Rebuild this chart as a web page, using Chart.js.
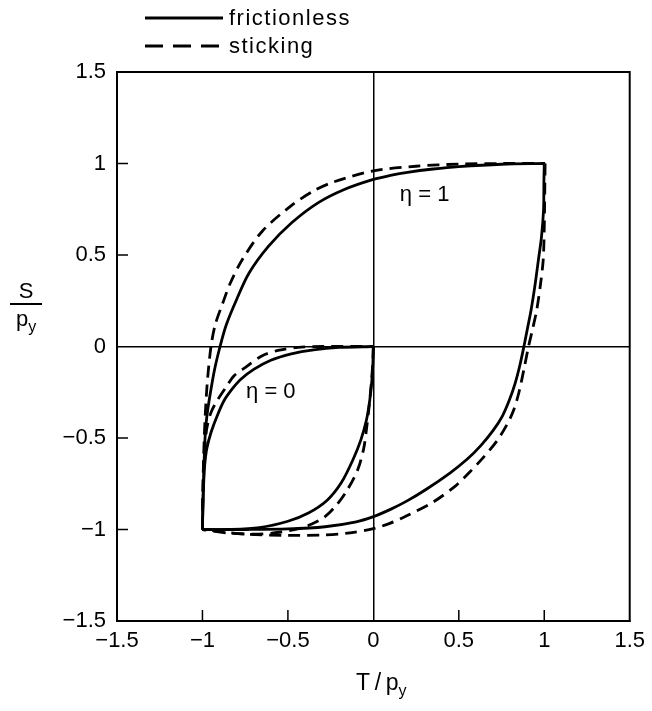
<!DOCTYPE html>
<html>
<head>
<meta charset="utf-8">
<script src="https://cdn.jsdelivr.net/npm/chart.js@4"></script>
<style>
  body { margin: 0; background: #fff; }
  #wrap { position: relative; width: 652px; height: 711px; font-family: "Liberation Sans", Arial, sans-serif; color: #000; }
  canvas { position: absolute; left: 0; top: 0; }
  .legend { position: absolute; left: 145px; font-size: 22px; letter-spacing: 1.5px; display: flex; align-items: center; }
  .legend svg { margin-right: 6px; }
  .ytitle { position: absolute; left: 10px; top: 279px; width: 32px; text-align: center; font-size: 22px; line-height: 23px; }
  .ytitle .bar { height: 2px; background: #000; margin: 1px 0 2px 0; }
  .xtitle { position: absolute; left: 356px; top: 669px; font-size: 23px; }
  sub { font-size: 16px; vertical-align: -6px; }
</style>
</head>
<body>
<div id="wrap">
  <canvas id="chart" width="652" height="711"></canvas>
  <div class="legend" style="top:5px">
    <svg width="78" height="6"><line x1="0" y1="3" x2="78" y2="3" stroke="#000" stroke-width="3"/></svg>frictionless
  </div>
  <div class="legend" style="top:33px">
    <svg width="78" height="6"><line x1="0" y1="3" x2="78" y2="3" stroke="#000" stroke-width="3" stroke-dasharray="18 10"/></svg>sticking
  </div>
  <div class="ytitle"><div>S</div><div class="bar"></div><div>p<sub>y</sub></div></div>
  <div class="xtitle">T&thinsp;/&thinsp;p<sub>y</sub></div>
</div>
<script>
// eta = 1, frictionless: rising branch (-1,-1) -> (1,1), falling branch (1,1) -> (-1,-1)
const fric1UpT = [-1.0, -0.998, -0.994, -0.99, -0.983, -0.974, -0.96, -0.93, -0.897, -0.86, -0.80, -0.728, -0.613, -0.478, -0.324, -0.17, 0, 0.1, 0.2, 0.35, 0.5, 0.75, 1.0];
const fric1UpS = [-1.0, -0.9, -0.75, -0.62, -0.47, -0.38, -0.29, -0.13, 0, 0.12, 0.257, 0.40, 0.548, 0.676, 0.785, 0.858, 0.913, 0.935, 0.952, 0.97, 0.983, 0.996, 1.0];
const fric1DownT = [1.0, 0.998, 0.996, 0.984, 0.966, 0.945, 0.923, 0.902, 0.881, 0.858, 0.83, 0.797, 0.755, 0.70, 0.63, 0.55, 0.45, 0.31, 0.195, 0.1, 0, -0.1, -0.283, -0.5, -0.75, -1.0];
const fric1DownS = [1.0, 0.9, 0.75, 0.6, 0.475, 0.33, 0.2, 0.1, 0, -0.1, -0.2, -0.29, -0.38, -0.46, -0.54, -0.615, -0.69, -0.78, -0.845, -0.89, -0.93, -0.958, -0.985, -0.997, -1.0, -1.0];

// eta = 1, sticking
const stick1UpT = [-1.0, -0.998, -0.993, -0.985, -0.972, -0.95, -0.925, -0.88, -0.84, -0.77, -0.65, -0.48, -0.35, -0.23, 0, 0.25, 0.5, 0.75, 1.005];
const stick1UpS = [-1.0, -0.8, -0.6, -0.4, -0.2, 0, 0.12, 0.24, 0.34, 0.47, 0.63, 0.77, 0.85, 0.90, 0.96, 0.985, 0.997, 1.0, 1.0];
const stick1DownT = [1.005, 1.003, 1.0, 0.994, 0.978, 0.956, 0.933, 0.908, 0.882, 0.852, 0.82, 0.78, 0.72, 0.64, 0.56, 0.483, 0.35, 0.195, 0.1, 0, -0.15, -0.283, -0.5, -0.75, -1.0];
const stick1DownS = [1.0, 0.85, 0.65, 0.475, 0.34, 0.2, 0.1, 0, -0.12, -0.25, -0.35, -0.43, -0.52, -0.61, -0.69, -0.76, -0.85, -0.925, -0.965, -0.995, -1.02, -1.03, -1.032, -1.025, -1.0];

// eta = 0, frictionless
const fric0UpT = [-1.0, -0.997, -0.993, -0.987, -0.975, -0.95, -0.91, -0.87, -0.82, -0.777, -0.7, -0.6, -0.48, -0.35, -0.2, 0];
const fric0UpS = [-1.0, -0.85, -0.75, -0.65, -0.56, -0.47, -0.37, -0.29, -0.225, -0.18, -0.125, -0.075, -0.04, -0.018, -0.005, 0];
const fric0DownT = [0, -0.003, -0.01, -0.022, -0.04, -0.073, -0.12, -0.188, -0.27, -0.38, -0.5, -0.667, -0.85, -1.0];
const fric0DownS = [0, -0.1, -0.2, -0.3, -0.4, -0.51, -0.62, -0.745, -0.84, -0.91, -0.955, -0.99, -1.0, -1.0];

// eta = 0, sticking
const stick0UpT = [-1.0, -0.997, -0.99, -0.975, -0.95, -0.91, -0.86, -0.815, -0.75, -0.65, -0.55, -0.44, -0.3, 0];
const stick0UpS = [-1.0, -0.8, -0.6, -0.45, -0.36, -0.29, -0.22, -0.16, -0.115, -0.05, -0.02, -0.005, 0, 0];
const stick0DownT = [0, -0.004, -0.012, -0.025, -0.04, -0.057, -0.09, -0.15, -0.21, -0.283, -0.36, -0.437, -0.55, -0.667, -0.85, -1.0];
const stick0DownS = [0, -0.1, -0.2, -0.33, -0.45, -0.56, -0.67, -0.78, -0.86, -0.93, -0.97, -0.995, -1.015, -1.025, -1.02, -1.0];

const etaLabels = ["η = 1", "η = 0"];
const etaLabelT = [0.3, -0.6];
const etaLabelS = [0.83, -0.25];

const innerTicks = [-1, -0.5, 0.5, 1];

function pts(ts, ss) {
  return ts.map((t, i) => ({ x: t, y: ss[i] }));
}

function curve(ts, ss, dashed) {
  return {
    data: pts(ts, ss),
    showLine: true,
    borderColor: "#000",
    borderWidth: 2.8,
    borderDash: dashed ? [12, 7] : [],
    pointRadius: 0,
    tension: 0.3,
    fill: false,
  };
}

function tickLabel(v) {
  if (v === 0) return "0";
  return v < 0 ? "\u2212" + Math.abs(v) : String(v);
}

const framePlugin = {
  id: "frame",
  beforeDatasetsDraw(chart) {
    const { ctx, chartArea: a, scales } = chart;
    ctx.save();
    ctx.strokeStyle = "#000";
    ctx.lineWidth = 2;
    ctx.strokeRect(a.left, a.top, a.right - a.left, a.bottom - a.top);
    ctx.lineWidth = 1.5;
    ctx.beginPath();
    innerTicks.forEach((v) => {
      const x = scales.x.getPixelForValue(v);
      ctx.moveTo(x, a.bottom);
      ctx.lineTo(x, a.bottom - 11);
      const y = scales.y.getPixelForValue(v);
      ctx.moveTo(a.left, y);
      ctx.lineTo(a.left + 11, y);
    });
    ctx.stroke();
    ctx.restore();
  },
  afterDraw(chart) {
    const { ctx, scales } = chart;
    ctx.save();
    ctx.fillStyle = "#000";
    ctx.font = "22px 'Liberation Sans', Arial, sans-serif";
    ctx.textAlign = "center";
    ctx.textBaseline = "middle";
    etaLabels.forEach((txt, i) => {
      ctx.fillText(txt, scales.x.getPixelForValue(etaLabelT[i]), scales.y.getPixelForValue(etaLabelS[i]));
    });
    ctx.restore();
  },
};

const axisCommon = {
  type: "linear",
  min: -1.5,
  max: 1.5,
  ticks: {
    stepSize: 0.5,
    color: "#000",
    font: { family: "'Liberation Sans', Arial, sans-serif", size: 22 },
    callback: tickLabel,
  },
  grid: {
    drawTicks: false,
    color: (c) => (c.tick && c.tick.value === 0 ? "#000" : "rgba(0,0,0,0)"),
    lineWidth: 1.5,
  },
  border: { display: true, color: "#000", width: 2 },
};

new Chart(document.getElementById("chart"), {
  type: "scatter",
  data: {
    datasets: [
      curve(fric1UpT, fric1UpS, false),
      curve(fric1DownT, fric1DownS, false),
      curve(stick1UpT, stick1UpS, true),
      curve(stick1DownT, stick1DownS, true),
      curve(fric0UpT, fric0UpS, false),
      curve(fric0DownT, fric0DownS, false),
      curve(stick0UpT, stick0UpS, true),
      curve(stick0DownT, stick0DownS, true),
    ],
  },
  options: {
    responsive: false,
    animation: false,
    layout: { padding: { top: 72, right: 16, left: 0, bottom: 0 } },
    plugins: { legend: { display: false }, tooltip: { enabled: false } },
    scales: {
      x: {
        ...axisCommon,
        ticks: { ...axisCommon.ticks, padding: 7, maxRotation: 0 },
        afterFit: (s) => { s.height = 90; },
      },
      y: {
        ...axisCommon,
        ticks: { ...axisCommon.ticks, padding: 11 },
        afterFit: (s) => { s.width = 117; },
      },
    },
  },
  plugins: [framePlugin],
});
</script>
</body>
</html>
